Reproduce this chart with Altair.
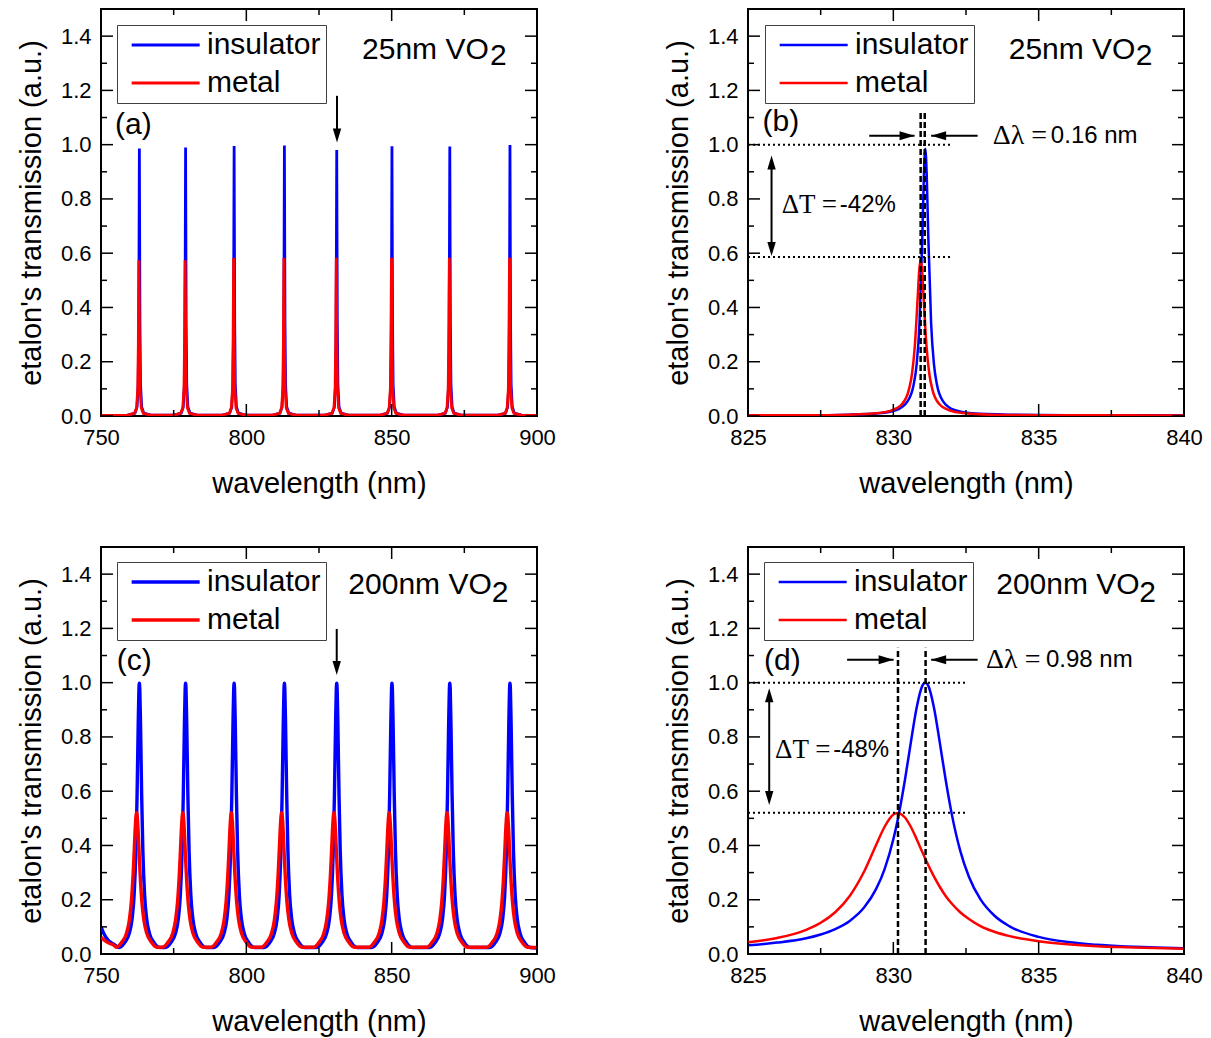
import altair as alt
import pandas as pd

FONT = "Liberation Sans"
SERIF = "Liberation Serif"
W, H = 436, 407
SERIES = ["insulator", "metal"]
COLORS = ["#0000FF", "#FF0000"]
Y_LABELS = [0.0, 0.2, 0.4, 0.6, 0.8, 1.0, 1.2, 1.4]
Y_MINOR = [0.1, 0.3, 0.5, 0.7, 0.9, 1.1, 1.3]
YTITLE = "etalon's transmission (a.u.)"

# ---------------- panel (a): 25 nm VO2, wide range ----------------
A_INS_CENTRES = [763.2, 779.1, 795.8, 813.1, 831.1, 850.1, 870.0, 890.7]
A_INS_PEAKS = [0.986, 0.990, 0.995, 0.997, 0.980, 0.994, 0.993, 0.999]
A_MET_CENTRES = [763.04, 778.94, 795.64, 812.94, 830.94, 849.94, 869.84, 890.54]
A_MET_PEAKS = [0.574, 0.574, 0.582, 0.582, 0.583, 0.583, 0.583, 0.583]
A_WING_OFFSETS = [-4, -1.5, -0.8, -0.4, -0.2, -0.1, 0.1, 0.2, 0.4, 0.8, 1.5, 4]
A_INS_WING = [0.003, 0.011, 0.033, 0.117, 0.343, 0.670, 0.670, 0.343, 0.117, 0.033, 0.011, 0.003]
A_MET_WING = [0.003, 0.010, 0.030, 0.100, 0.261, 0.444, 0.444, 0.261, 0.100, 0.030, 0.010, 0.003]
A_EDGE_X = [750, 900]
A_INS_EDGE = [0.002, 0.002]
A_MET_EDGE = [0.002, 0.002]

# ---------------- panel (b): 25 nm VO2, zoom ----------------
B_INS_X = [825, 827, 828.5, 829.5, 830.1, 830.5, 830.7, 830.8, 830.9, 831.0, 831.05, 831.1,
           831.15, 831.2, 831.3, 831.4, 831.5, 831.7, 832.1, 832.7, 834, 836, 840]
B_INS_Y = [0.003, 0.003, 0.005, 0.010, 0.022, 0.056, 0.116, 0.188, 0.342, 0.670, 0.883, 0.985,
           0.883, 0.670, 0.342, 0.188, 0.116, 0.056, 0.022, 0.010, 0.005, 0.003, 0.003]
B_MET_X = [825, 827, 828.5, 829.5, 829.9, 830.3, 830.54, 830.64, 830.74, 830.84, 830.89, 830.94,
           830.99, 831.04, 831.14, 831.24, 831.34, 831.58, 831.98, 832.38, 833.38, 835, 840]
B_MET_Y = [0.003, 0.003, 0.005, 0.011, 0.019, 0.044, 0.099, 0.154, 0.259, 0.441, 0.536, 0.577,
           0.536, 0.441, 0.259, 0.154, 0.099, 0.044, 0.019, 0.011, 0.005, 0.003, 0.002]

# ---------------- panel (c): 200 nm VO2, wide range ----------------
C_INS_CENTRES = [763.2, 779.1, 795.8, 813.1, 831.1, 850.1, 870.0, 890.7]
C_INS_PEAKS = [0.998, 0.998, 0.998, 0.998, 0.998, 0.998, 0.998, 0.998]
C_MET_CENTRES = [762.25, 778.15, 794.85, 812.15, 830.15, 849.15, 869.05, 889.75]
C_MET_PEAKS = [0.521, 0.521, 0.521, 0.521, 0.521, 0.521, 0.521, 0.521]
C_WING_OFFSETS = [-7, -5, -3.5, -2.5, -1.8, -1.2, -0.8, -0.4, -0.15,
                  0.15, 0.4, 0.8, 1.2, 1.8, 2.5, 3.5, 5, 7]
C_INS_WING = [0.024, 0.043, 0.075, 0.130, 0.218, 0.381, 0.579, 0.846, 0.975,
              0.975, 0.846, 0.579, 0.381, 0.218, 0.130, 0.075, 0.043, 0.024]
C_MET_WING = [0.025, 0.045, 0.076, 0.125, 0.194, 0.295, 0.387, 0.479, 0.514,
              0.514, 0.479, 0.387, 0.295, 0.194, 0.125, 0.076, 0.045, 0.025]
C_EDGE_X = [750, 751, 752.5, 754.5, 900]
C_INS_EDGE = [0.100, 0.075, 0.050, 0.035, 0.022]
C_MET_EDGE = [0.062, 0.052, 0.041, 0.032, 0.024]

# ---------------- panel (d): 200 nm VO2, zoom ----------------
D_X = [825, 826, 827, 827.5, 828, 828.5, 829, 829.4, 829.7, 830, 830.15, 830.2, 830.4, 830.6,
       830.8, 831.0, 831.1, 831.2, 831.4, 831.6, 831.8, 832.0, 832.3, 832.6, 833, 833.5, 834,
       835, 836, 837, 838, 839, 840]
D_INS_Y = [0.032, 0.042, 0.058, 0.072, 0.092, 0.122, 0.172, 0.238, 0.313, 0.423, 0.494, 0.521,
           0.642, 0.778, 0.907, 0.989, 1.000, 0.989, 0.907, 0.778, 0.642, 0.521, 0.381, 0.285,
           0.201, 0.139, 0.102, 0.063, 0.044, 0.034, 0.028, 0.024, 0.021]
D_MET_Y = [0.043, 0.059, 0.089, 0.115, 0.154, 0.214, 0.305, 0.400, 0.469, 0.514, 0.520, 0.519,
           0.503, 0.469, 0.424, 0.375, 0.351, 0.328, 0.285, 0.247, 0.214, 0.187, 0.154, 0.129,
           0.103, 0.081, 0.066, 0.047, 0.036, 0.029, 0.025, 0.022, 0.019]

# ---------------- axis ticks ----------------
WIDE_LABELS = [750, 800, 850, 900]
WIDE_MINOR = [775, 825, 875]
ZOOM_LABELS = [825, 830, 835, 840]
ZOOM_MINOR = [827.5, 832.5, 837.5]

# ---------------- annotations ----------------
SAMPLE_TXT = {"a": ("25nm VO", "2"), "b": ("25nm VO", "2"), "c": ("200nm VO", "2"), "d": ("200nm VO", "2")}
SAMPLE_POS = {"a": (839.8, 1.316, 883.8, 1.292), "b": (833.97, 1.316, 838.34, 1.292),
              "c": (835.1, 1.325, 884.4, 1.297), "d": (833.54, 1.325, 838.46, 1.297)}
LETTER_POS = {"a": (754.8, 1.04), "b": (825.5, 1.05), "c": (755.4, 1.048), "d": (825.55, 1.048)}
DOWN_ARROW = {"a": (831.2, 1.18, 1.008), "c": (831.1, 1.198, 1.028)}
DOTTED = {"b": [(825, 832.0, 1.0), (825, 832.03, 0.586)], "d": [(825, 832.56, 1.0), (825, 832.56, 0.521)]}
DASHED = {"b": [830.94, 831.08], "d": [830.16, 831.11]}
DASHED_TOP = {"b": 1.128, "d": 1.129}
H_ARROWS = {"b": [(829.17, 830.73, 1.033), (832.9, 831.3, 1.033)],
            "d": [(828.41, 830.01, 1.084), (832.9, 831.3, 1.084)]}
DL_TEXT = {"b": ("\u0394\u03bb =", 833.42, "0.16 nm", 835.42, 1.033),
           "d": ("\u0394\u03bb =", 833.19, "0.98 nm", 835.25, 1.084)}
V_DOUBLE = {"b": (825.81, 0.96, 0.59), "d": (825.73, 0.979, 0.549)}
DT_TEXT = {"b": ("\u0394T =", 826.16, "-42%", 828.16, 0.776),
           "d": ("\u0394T =", 825.93, "-48%", 827.93, 0.752)}
LEGEND_POS = {"a": (16, 16), "b": (17, 16), "c": (16, 15), "d": (16, 15)}
STROKE_W = {"a": 2.8, "b": 2.5, "c": 3.4, "d": 2.5}
INTERP = {"a": "linear", "b": "monotone", "c": "monotone", "d": "monotone"}

HEAD_R = "M0,0L-2,-0.6L-2,0.6Z"
HEAD_L = "M0,0L2,-0.6L2,0.6Z"
HEAD_D = "M0,0L-0.6,-2L0.6,-2Z"
HEAD_U = "M0,0L-0.6,2L0.6,2Z"
LEGEND_LINE = "M-1,0H5"


def peak_series(centres, peaks, offsets, wing, edge_x, edge_y):
    pts = list(zip(edge_x, edge_y))
    for c, p in zip(centres, peaks):
        for o, v in zip(offsets, wing):
            pts.append((c + o, v))
        pts.append((c, p))
    pts.sort()
    return pts


def frame(ins_pts, met_pts):
    rows = [{"x": x, "y": y, "series": "insulator"} for x, y in ins_pts]
    rows += [{"x": x, "y": y, "series": "metal"} for x, y in met_pts]
    return pd.DataFrame(rows)


CURVES = {
    "a": frame(peak_series(A_INS_CENTRES, A_INS_PEAKS, A_WING_OFFSETS, A_INS_WING, A_EDGE_X, A_INS_EDGE),
               peak_series(A_MET_CENTRES, A_MET_PEAKS, A_WING_OFFSETS, A_MET_WING, A_EDGE_X, A_MET_EDGE)),
    "b": frame(zip(B_INS_X, B_INS_Y), zip(B_MET_X, B_MET_Y)),
    "c": frame(peak_series(C_INS_CENTRES, C_INS_PEAKS, C_WING_OFFSETS, C_INS_WING, C_EDGE_X, C_INS_EDGE),
               peak_series(C_MET_CENTRES, C_MET_PEAKS, C_WING_OFFSETS, C_MET_WING, C_EDGE_X, C_MET_EDGE)),
    "d": frame(zip(D_X, D_INS_Y), zip(D_X, D_MET_Y)),
}


def panel(key):
    wide = key in ("a", "c")
    xdom = [750, 900] if wide else [825, 840]
    xlabels = WIDE_LABELS if wide else ZOOM_LABELS
    xminor = WIDE_MINOR if wide else ZOOM_MINOR
    xs = alt.Scale(domain=xdom, nice=False, zero=False)
    ys = alt.Scale(domain=[0, 1.5], nice=False, zero=False)
    lx, ly = LEGEND_POS[key]

    lines = alt.Chart(CURVES[key]).mark_line(strokeWidth=STROKE_W[key], clip=True,
                                             interpolate=INTERP[key]).encode(
        x=alt.X("x:Q", scale=xs, axis=alt.Axis(
            values=xlabels, format="d", title="wavelength (nm)", ticks=False, domain=False,
            grid=False, labelFontSize=22, labelPadding=11, titleFontSize=29, titlePadding=21,
            labelFlush=False)),
        y=alt.Y("y:Q", scale=ys, axis=alt.Axis(
            values=Y_LABELS, format=".1f", title=YTITLE, ticks=False, domain=False, grid=False,
            labelFontSize=22, labelPadding=10, titleFontSize=29, titlePadding=14)),
        color=alt.Color("series:N", scale=alt.Scale(domain=SERIES, range=COLORS),
                        legend=alt.Legend(orient="none", legendX=lx, legendY=ly, title=None,
                                          symbolType=LEGEND_LINE, symbolSize=514,
                                          symbolStrokeWidth=STROKE_W[key], labelFontSize=30,
                                          labelFont=FONT, strokeColor="#404040", fillColor="white",
                                          padding=5, symbolOffset=6, labelOffset=49, rowPadding=8)),
        order=alt.Order("x:Q"),
    )
    layers = [lines]

    def X(f="x"):
        return alt.X(f + ":Q", scale=xs)

    def Y(f="y"):
        return alt.Y(f + ":Q", scale=ys)

    def xtick(vals, length):
        df = pd.DataFrame({"x": vals})
        base = alt.Chart(df).mark_rule(color="black", strokeWidth=1.5)
        return [base.encode(x=X(), y=alt.value(H), y2=alt.value(H - length)),
                base.encode(x=X(), y=alt.value(0), y2=alt.value(length))]

    def ytick(vals, length):
        df = pd.DataFrame({"y": vals})
        base = alt.Chart(df).mark_rule(color="black", strokeWidth=1.5)
        return [base.encode(y=Y(), x=alt.value(0), x2=alt.value(length)),
                base.encode(y=Y(), x=alt.value(W), x2=alt.value(W - length))]

    layers += xtick(xlabels, 12) + xtick(xminor, 6) + ytick(Y_LABELS, 12) + ytick(Y_MINOR, 6)

    def text(df, font, size, align="left", baseline="alphabetic"):
        return alt.Chart(df).mark_text(align=align, baseline=baseline, font=font, fontSize=size,
                                       color="black").encode(x=X(), y=Y(), text="t:N")

    def head(df, shape, size=225):
        return alt.Chart(df).mark_point(shape=shape, size=size, filled=True, color="black",
                                        opacity=1, strokeWidth=0).encode(x=X(), y=Y())

    # sample label
    s1, s2 = SAMPLE_TXT[key]
    x1, y1, x2, y2 = SAMPLE_POS[key]
    layers.append(text(pd.DataFrame({"x": [x1], "y": [y1], "t": [s1]}), FONT, 30))
    layers.append(text(pd.DataFrame({"x": [x2], "y": [y2], "t": [s2]}), FONT, 30))
    # panel letter
    px, py = LETTER_POS[key]
    layers.append(text(pd.DataFrame({"x": [px], "y": [py], "t": ["(" + key + ")"]}), FONT, 30))

    if wide:
        ax, ay1, ay2 = DOWN_ARROW[key]
        shaft = pd.DataFrame({"x": [ax], "y": [ay1], "y2": [ay2 + 0.03]})
        layers.append(alt.Chart(shaft).mark_rule(color="black", strokeWidth=2).encode(
            x=X(), y=Y(), y2="y2:Q"))
        layers.append(head(pd.DataFrame({"x": [ax], "y": [ay2]}), HEAD_D, 196))
    else:
        dot = pd.DataFrame(DOTTED[key], columns=["x", "x2", "y"])
        layers.append(alt.Chart(dot).mark_rule(color="black", strokeWidth=2, strokeDash=[2, 3]).encode(
            x=X(), x2="x2:Q", y=Y()))
        dash = pd.DataFrame({"x": DASHED[key], "y": [0, 0], "y2": [DASHED_TOP[key]] * 2})
        layers.append(alt.Chart(dash).mark_rule(color="black", strokeWidth=2.5, strokeDash=[6, 3]).encode(
            x=X(), y=Y(), y2="y2:Q"))
        (r0, r1, ry), (l0, l1, lyy) = H_ARROWS[key]
        arr = pd.DataFrame({"x": [r0, l0], "x2": [r1, l1], "y": [ry, lyy]})
        layers.append(alt.Chart(arr).mark_rule(color="black", strokeWidth=2).encode(
            x=X(), x2="x2:Q", y=Y()))
        layers.append(head(pd.DataFrame({"x": [r1], "y": [ry]}), HEAD_R))
        layers.append(head(pd.DataFrame({"x": [l1], "y": [lyy]}), HEAD_L))
        t1, tx1, t2, tx2, ty = DL_TEXT[key]
        layers.append(text(pd.DataFrame({"x": [tx1], "y": [ty], "t": [t1]}), SERIF, 28, baseline="middle"))
        layers.append(text(pd.DataFrame({"x": [tx2], "y": [ty], "t": [t2]}), FONT, 24, baseline="middle"))
        vx, vy1, vy2 = V_DOUBLE[key]
        vd = pd.DataFrame({"x": [vx], "y": [vy1 - 0.03], "y2": [vy2 + 0.03]})
        layers.append(alt.Chart(vd).mark_rule(color="black", strokeWidth=2).encode(
            x=X(), y=Y(), y2="y2:Q"))
        layers.append(head(pd.DataFrame({"x": [vx], "y": [vy1]}), HEAD_U, 196))
        layers.append(head(pd.DataFrame({"x": [vx], "y": [vy2]}), HEAD_D, 196))
        d1, dx1, d2, dx2, dy = DT_TEXT[key]
        layers.append(text(pd.DataFrame({"x": [dx1], "y": [dy], "t": [d1]}), SERIF, 27, baseline="middle"))
        layers.append(text(pd.DataFrame({"x": [dx2], "y": [dy], "t": [d2]}), FONT, 24, baseline="middle"))

    return alt.layer(*layers).properties(width=W, height=H)


top = alt.hconcat(panel("a"), panel("b"), spacing=106).resolve_scale(color="independent").resolve_legend(color="independent")
bottom = alt.hconcat(panel("c"), panel("d"), spacing=106).resolve_scale(color="independent").resolve_legend(color="independent")
chart = alt.vconcat(top, bottom, spacing=46).resolve_scale(color="independent").resolve_legend(
    color="independent").properties(
    padding={"left": 16, "top": 7, "right": 0, "bottom": 0}
).configure_view(stroke="black", strokeWidth=2).configure_axis(
    labelFont=FONT, titleFont=FONT, labelColor="black", titleColor="black", titleFontWeight="normal"
).configure_text(font=FONT)

chart.save("out.html", embed_options={"renderer": "svg", "actions": False})
